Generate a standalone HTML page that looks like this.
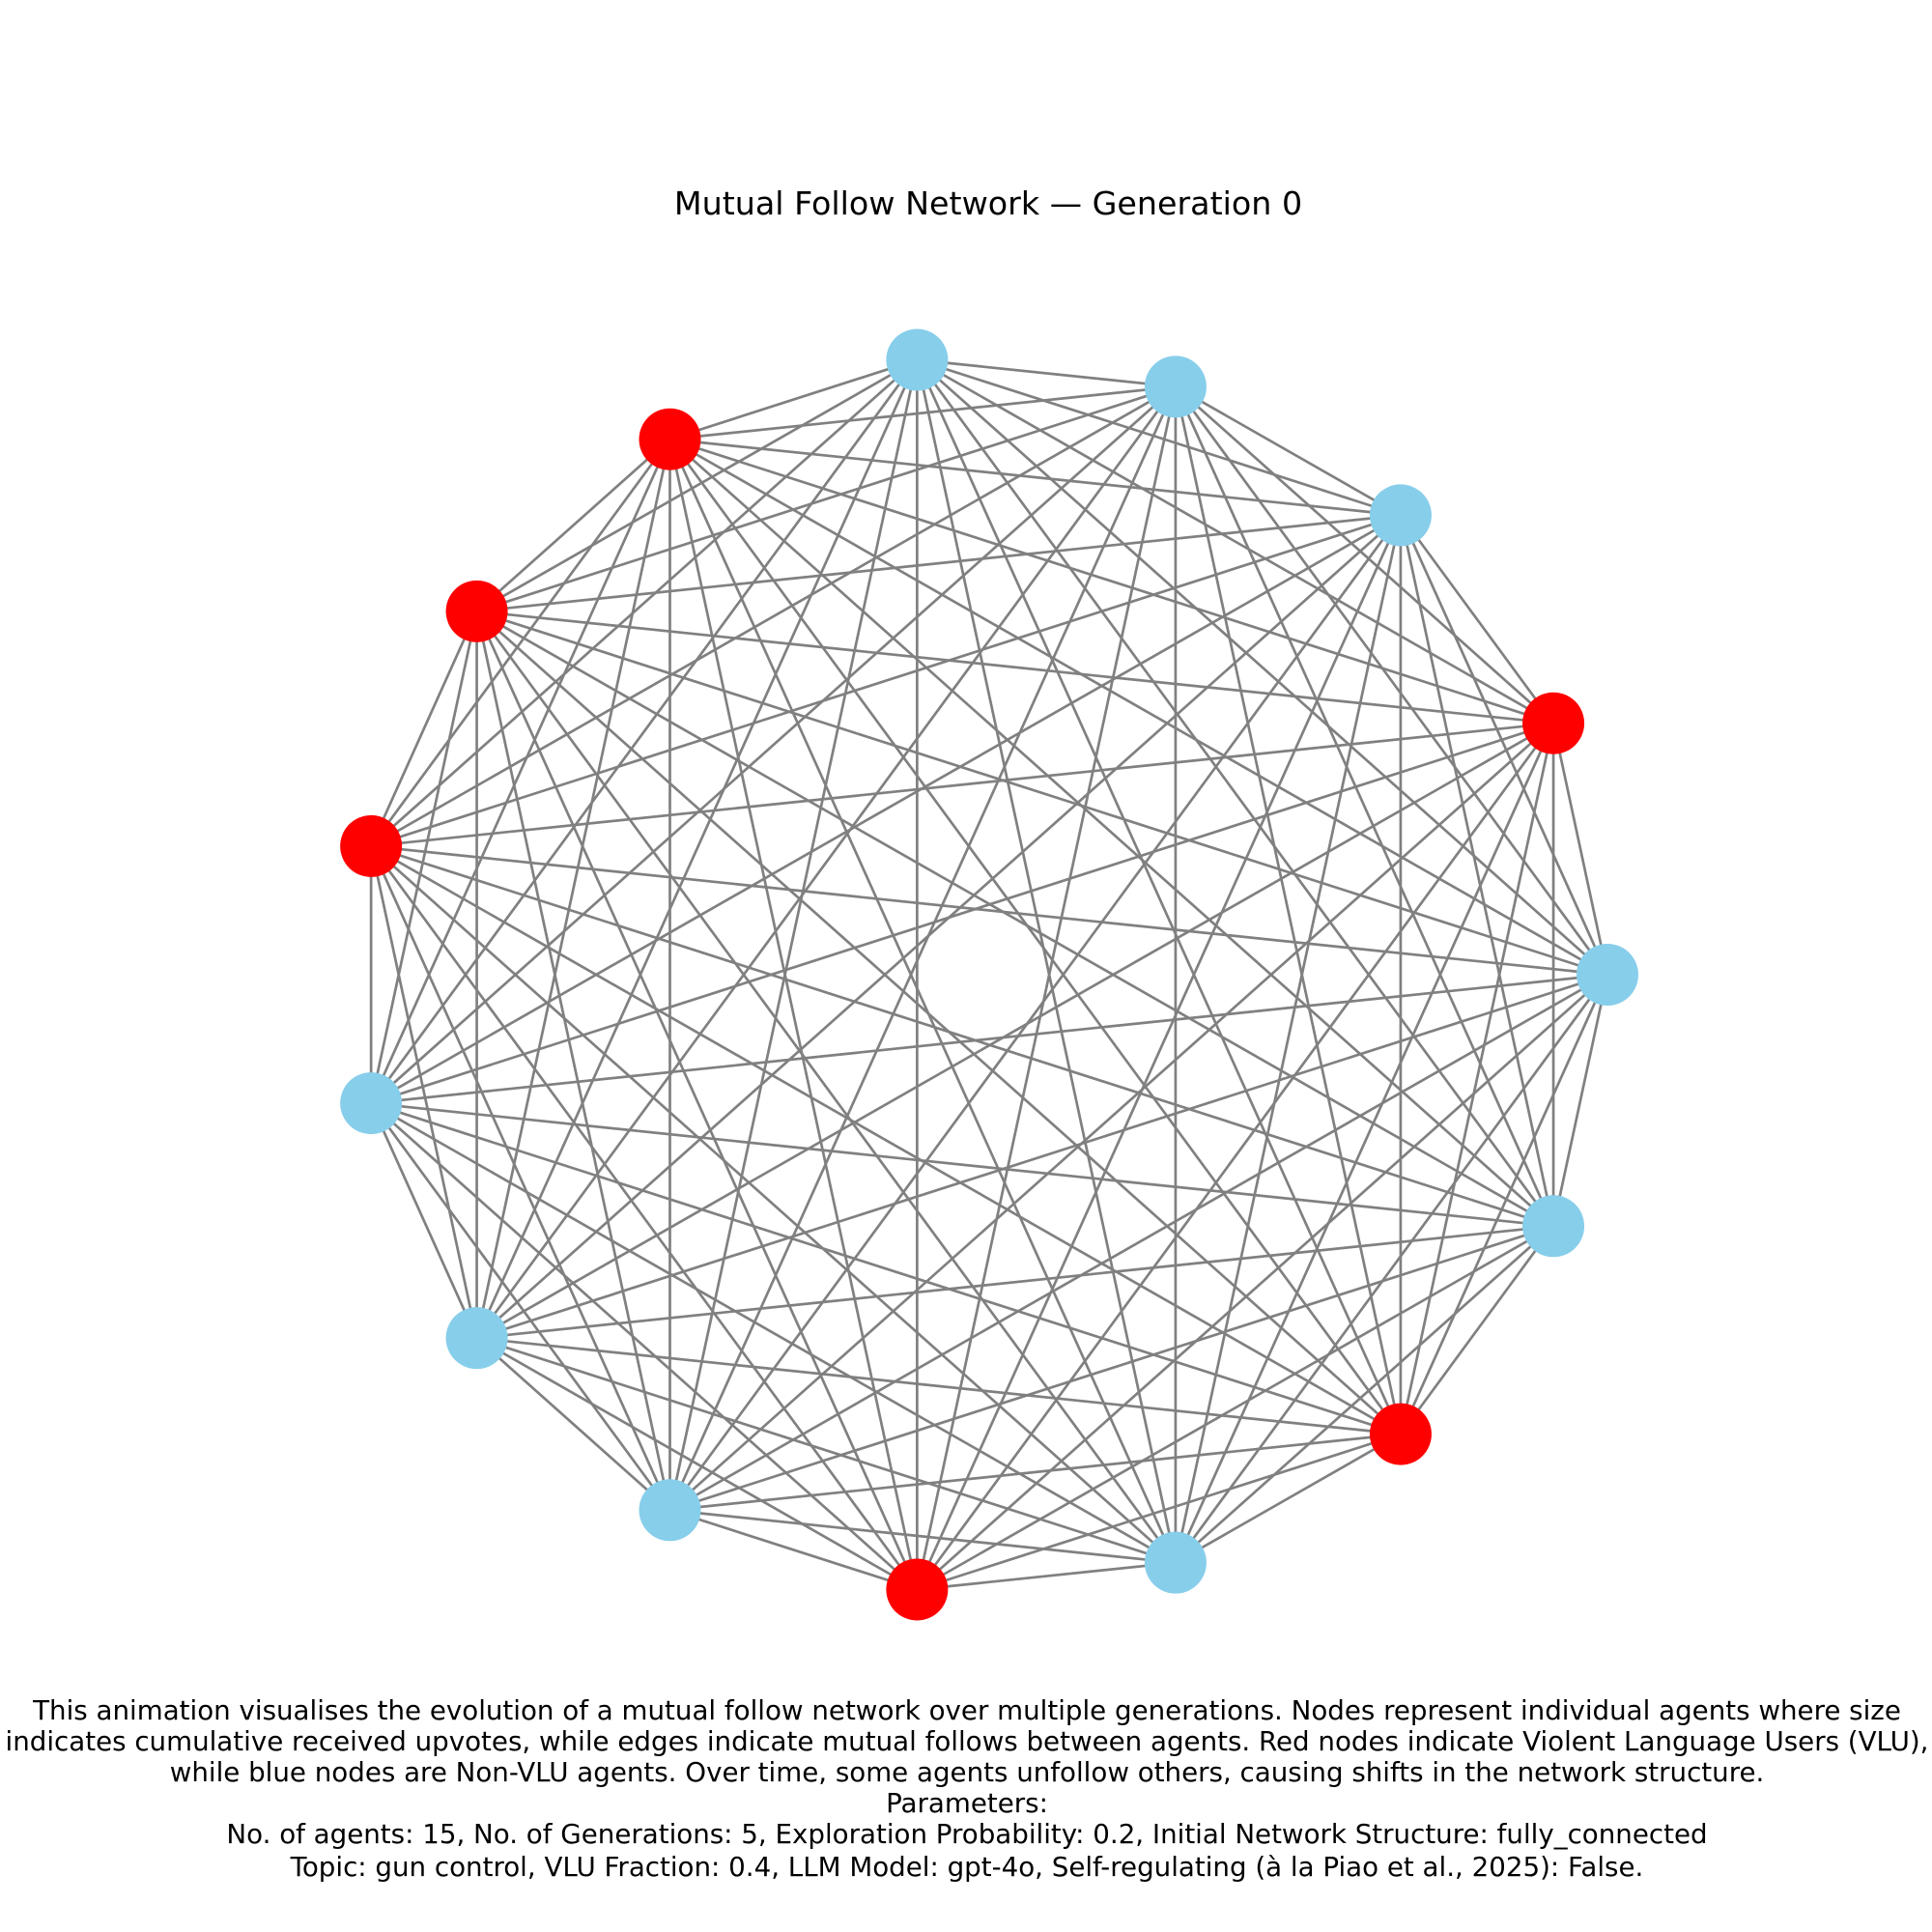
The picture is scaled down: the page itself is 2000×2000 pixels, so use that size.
<!DOCTYPE html>
<html><head><meta charset="utf-8"><style>
html,body{margin:0;padding:0;background:#fff;}
svg{display:block;}
text{font-family:"DejaVu Sans","Liberation Sans",sans-serif;fill:#000;}
</style></head><body>
<svg id="chart" width="2000" height="2000" viewBox="0 0 2000 2000" xmlns="http://www.w3.org/2000/svg">
<text x="1023" y="222" font-size="33.3" text-anchor="middle">Mutual Follow Network — Generation 0</text>
<g id="edges"></g>
<g id="nodes"></g>
<g font-size="27.7" text-anchor="middle">
<text x="1001" y="1780">This animation visualises the evolution of a mutual follow network over multiple generations. Nodes represent individual agents where size</text>
<text x="1001" y="1812">indicates cumulative received upvotes, while edges indicate mutual follows between agents. Red nodes indicate Violent Language Users (VLU),</text>
<text x="1001" y="1844">while blue nodes are Non-VLU agents. Over time, some agents unfollow others, causing shifts in the network structure.</text>
<text x="1001" y="1876">Parameters:</text>
<text x="1001" y="1908">No. of agents: 15, No. of Generations: 5, Exploration Probability: 0.2, Initial Network Structure: fully_connected</text>
<text x="1001" y="1942">Topic: gun control, VLU Fraction: 0.4, LLM Model: gpt-4o, Self-regulating (à la Piao et al., 2025): False.</text>
</g>
</svg>
<script>
const agentIds = [0,1,2,3,4,5,6,7,8,9,10,11,12,13,14];
const agentVLU = [1,0,0,0,1,1,1,0,0,0,1,0,1,0,0];
const cx = 1017, cy = 1009, Rx = 647, Ry = 640, nodeR = 32;
const NS = "http://www.w3.org/2000/svg";
function pos(i){ const a = (i+1)*24*Math.PI/180; return [cx+Rx*Math.cos(a), cy-Ry*Math.sin(a)]; }
const eg = document.getElementById('edges');
for (let i=0;i<agentIds.length;i++) for (let j=i+1;j<agentIds.length;j++){
  const [x1,y1]=pos(i),[x2,y2]=pos(j);
  const l=document.createElementNS(NS,'line');
  l.setAttribute('x1',x1);l.setAttribute('y1',y1);l.setAttribute('x2',x2);l.setAttribute('y2',y2);
  l.setAttribute('stroke','#808080');l.setAttribute('stroke-width','2.7');
  
  
  eg.appendChild(l);
}
const ng = document.getElementById('nodes');
agentIds.forEach((id,i)=>{
  const [x,y]=pos(i);
  const c=document.createElementNS(NS,'circle');
  c.setAttribute('cx',x);c.setAttribute('cy',y);c.setAttribute('r',nodeR);
  c.setAttribute('fill',agentVLU[i]?'#ff0000':'#87ceeb');
  
  
  ng.appendChild(c);
});
</script>
</body></html>
